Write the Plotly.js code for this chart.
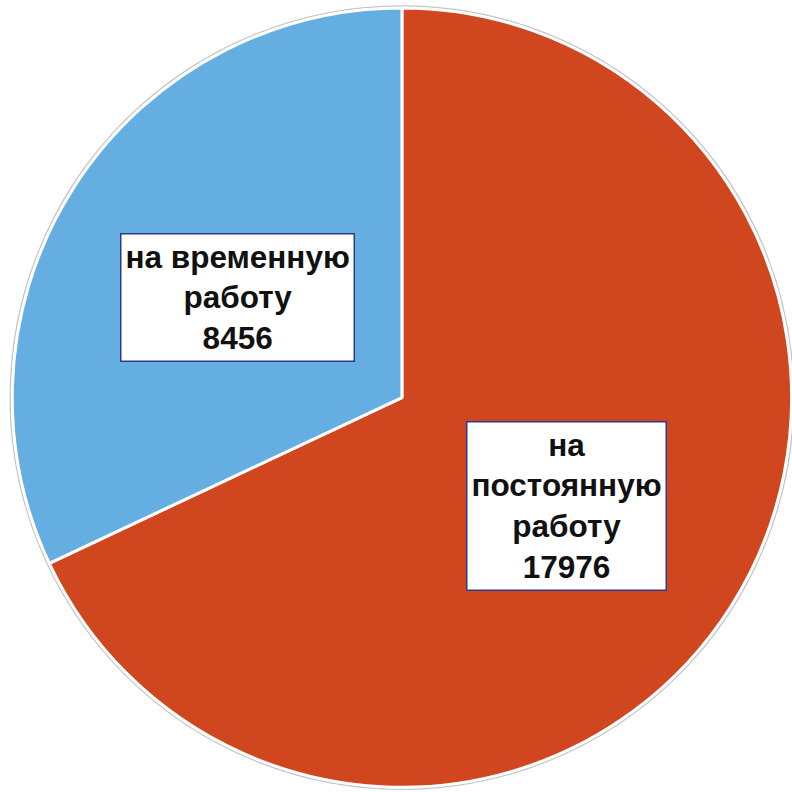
<!DOCTYPE html>
<html>
<head>
<meta charset="utf-8">
<script src="https://cdn.plot.ly/plotly-3.0.1.min.js"></script>
<style>html,body{margin:0;padding:0;background:#fff;}#chart{width:792px;height:792px;}</style>
</head>
<body>
<div id="chart"></div>
<script>
const categories = ["на постоянную работу", "на временную работу"];
const labelLines = [["на", "постоянную", "работу"], ["на временную", "работу"]];
const values = [17976, 8456];
const colors = ["#d0461f", "#64aee2"];

const W = 792, H = 792;
const domX = [0.015, 1.0];
const domY = [0.006, 0.99];
const cxPx = (domX[0] + domX[1]) / 2 * W;
const cyPx = (1 - (domY[0] + domY[1]) / 2) * H;
const rPx = Math.min((domX[1] - domX[0]) * W, (domY[1] - domY[0]) * H) / 2;

const total = values.reduce((a, b) => a + b, 0);
let cum = 0;
const annotations = values.map((v, i) => {
  const mid = (cum + v / 2) / total * 2 * Math.PI;
  cum += v;
  const px = cxPx + 0.5 * rPx * Math.sin(mid);
  const py = cyPx - 0.5 * rPx * Math.cos(mid) + 4;
  return {
    x: px / W, y: 1 - py / H, xref: "paper", yref: "paper",
    xanchor: "center", yanchor: "middle",
    text: "<b>" + labelLines[i].join("<br>") + "<br>" + v + "</b>",
    showarrow: false,
    font: {family: "Liberation Sans, Arial, sans-serif", size: 31.5, color: "#111"},
    bgcolor: "#ffffff", bordercolor: "#2d3a8c", borderwidth: 1.5, borderpad: 4,
    align: "center"
  };
});

const data = [{
  type: "pie",
  labels: categories,
  values: values,
  sort: false,
  direction: "clockwise",
  rotation: 0,
  textinfo: "none",
  hoverinfo: "label+value",
  marker: {colors: colors, line: {color: "#ffffff", width: 3}},
  domain: {x: domX, y: domY},
  showlegend: false
}];

const layout = {
  width: W, height: H,
  margin: {l: 0, r: 0, t: 0, b: 0},
  paper_bgcolor: "#ffffff",
  showlegend: false,
  annotations: annotations,
  shapes: [{
    type: "circle", xref: "paper", yref: "paper", layer: "below",
    x0: (cxPx - rPx - 2) / W, x1: (cxPx + rPx + 2) / W,
    y0: 1 - (cyPx + rPx + 2) / H, y1: 1 - (cyPx - rPx - 2) / H,
    line: {color: "#c4c4c4", width: 1.5}
  }]
};

Plotly.newPlot("chart", data, layout, {displayModeBar: false, staticPlot: true});
</script>
</body>
</html>
